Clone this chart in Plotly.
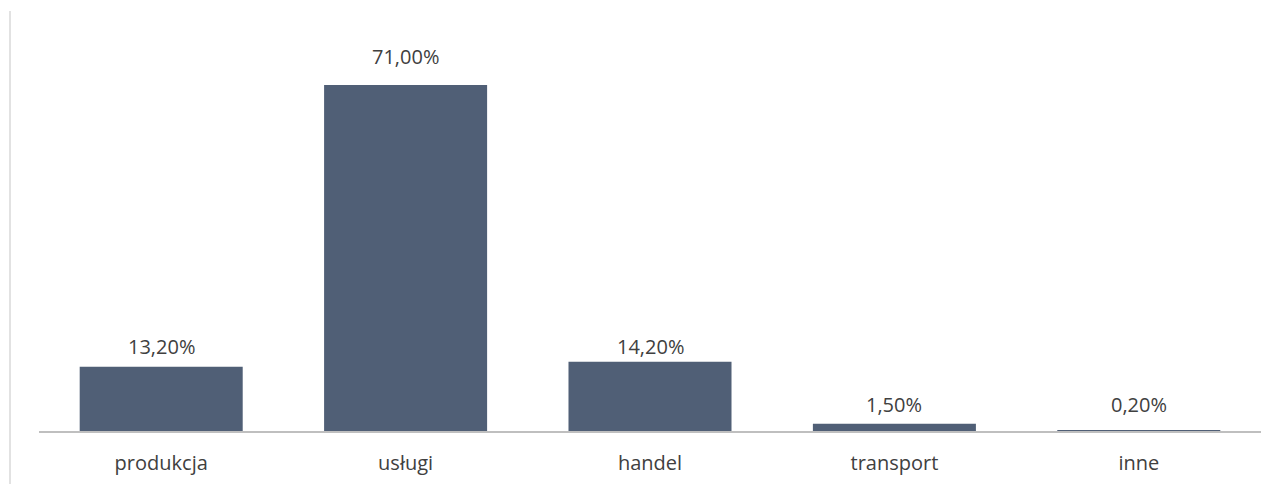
import plotly.graph_objects as go

categories = ["produkcja", "usługi", "handel", "transport", "inne"]
values = [13.2, 71.0, 14.2, 1.5, 0.2]
# vertical distance (px) of each data label's centre above its bar top
label_offsets = [20.5, 29, 15.5, 19, 26]

# browser body has 8px default margin -> figure is 8px smaller/offset
W, H = 1271, 476
ml, mr, mt, mb = 31, 18, 2, 53
plot_h = H - mt - mb

labels = [f"{v:.2f}".replace(".", ",") + "%" for v in values]

fig = go.Figure(go.Bar(
    x=categories, y=values,
    marker=dict(color="#505f76", line=dict(width=0)),
    hoverinfo="skip",
))

FONT = dict(family="Open Sans", size=20, color="#404040")

for c, v, t, off in zip(categories, values, labels, label_offsets):
    fig.add_annotation(x=c, y=v, text=t, showarrow=False, yanchor="middle",
                       yshift=off, font=FONT)

# left border line (at x=10, from y=11 to bottom in the page)
x_line = (2 - ml) / (W - ml - mr)
fig.add_shape(type="line", xref="paper", yref="paper",
              x0=x_line, x1=x_line,
              y0=(H - mb - 3) / plot_h, y1=(H - mb - H - 10) / plot_h,
              line=dict(color="#d9d9d9", width=1.5))

fig.update_layout(
    width=W, height=H,
    margin=dict(l=ml, r=mr, t=mt, b=mb),
    paper_bgcolor="white", plot_bgcolor="white",
    bargap=0.333,
    showlegend=False,
    font=FONT,
)
fig.update_xaxes(showline=True, linecolor="#bfbfbf", linewidth=1.5,
                 showgrid=False, ticks="", ticklabelstandoff=13,
                 tickfont=FONT)
fig.update_yaxes(range=[0, plot_h / (346 / 71.0)], visible=False, showgrid=False)

fig.write_html("out.html")
